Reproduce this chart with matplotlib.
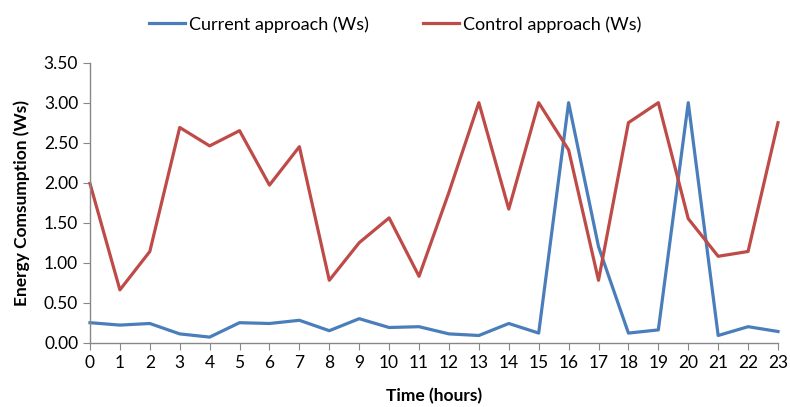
import matplotlib.pyplot as plt
from matplotlib.ticker import FormatStrFormatter

hours = list(range(24))
current = [0.25, 0.22, 0.24, 0.11, 0.07, 0.25, 0.24, 0.28, 0.15, 0.30, 0.19, 0.20,
           0.11, 0.09, 0.24, 0.12, 3.00, 1.20, 0.12, 0.16, 3.00, 0.09, 0.20, 0.14]
control = [1.99, 0.66, 1.14, 2.69, 2.46, 2.65, 1.97, 2.45, 0.78, 1.25, 1.56, 0.83,
           1.88, 3.00, 1.67, 3.00, 2.41, 0.78, 2.75, 3.00, 1.55, 1.08, 1.14, 2.75]

plt.rcParams["font.family"] = ["Lato", "DejaVu Sans"]

fig = plt.figure(figsize=(7.9, 4.07), dpi=100)
ax = fig.add_axes([0.1139, 0.158, 0.8709, 0.688])

ax.plot(hours, current, color="#4A7EBB", linewidth=2.3, label="Current approach (Ws)", clip_on=False)
ax.plot(hours, control, color="#BE4B48", linewidth=2.3, label="Control approach (Ws)", clip_on=False)

ax.set_xlim(0, 23)
ax.set_ylim(0, 3.5)
ax.set_xticks(hours)
ax.set_yticks([0, 0.5, 1.0, 1.5, 2.0, 2.5, 3.0, 3.5])
ax.yaxis.set_major_formatter(FormatStrFormatter("%.2f"))

for side in ["top", "right"]:
    ax.spines[side].set_visible(False)
for side in ["left", "bottom"]:
    ax.spines[side].set_color("#888888")
    ax.spines[side].set_linewidth(1)
ax.tick_params(axis="both", colors="#888888", length=5, labelsize=12.5, labelcolor="black")
ax.tick_params(axis="x", pad=4)

ax.set_xlabel("Time (hours)", fontsize=12.5, fontweight="bold", labelpad=12)
ax.set_ylabel("Energy Comsumption (Ws)", fontsize=12.5, fontweight="bold", labelpad=10)

fig.legend(loc="upper center", bbox_to_anchor=(0.5, 1.0), ncol=2, frameon=False,
           fontsize=13, handlelength=2.0, handletextpad=0.2, columnspacing=3.0)

fig.savefig("out.png", dpi=100)
